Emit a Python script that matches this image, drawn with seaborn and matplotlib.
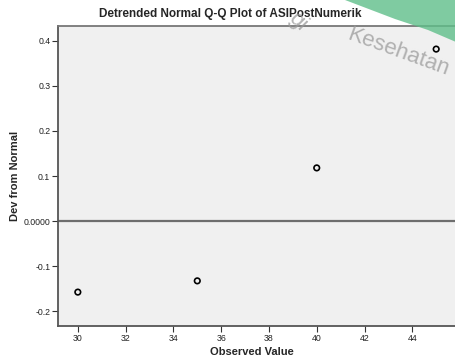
import matplotlib
matplotlib.use("Agg")
import matplotlib.pyplot as plt
import seaborn as sns
import pandas as pd
from matplotlib.patches import Polygon
from matplotlib.ticker import FixedLocator, FixedFormatter

observed = [30, 35, 40, 45]
deviation = [-0.158, -0.133, 0.118, 0.382]
xticks = [30, 32, 34, 36, 38, 40, 42, 44]
yticks = [-0.2, -0.1, 0.0, 0.1, 0.2, 0.3, 0.4]
ytick_labels = ["-0.2", "-0.1", "0.0000", "0.1", "0.2", "0.3", "0.4"]

sns.set_theme(style="white")
plt.rcParams['font.family'] = ['Liberation Sans', 'DejaVu Sans']

df = pd.DataFrame({"Observed Value": observed, "Dev from Normal": deviation})

W, H = 456, 361
fig = plt.figure(figsize=(W / 100, H / 100), dpi=100)
fig.patch.set_facecolor("white")
ax = fig.add_axes([58 / W, 1 - 326 / H, (458 - 58) / W, 300 / H])
ax.set_facecolor("#F0F0F0")

ax.axhline(0, color="#6E6E6E", lw=1.6, zorder=1)
sns.scatterplot(data=df, x="Observed Value", y="Dev from Normal", ax=ax,
                marker="o", s=16, facecolor="none", edgecolor="black",
                linewidth=1.2, zorder=3)

ax.set_xlim(29.17, 45.83 + 2 / 24)
ax.set_ylim(-0.2333, 0.4333)
ax.xaxis.set_major_locator(FixedLocator(xticks))
ax.yaxis.set_major_locator(FixedLocator(yticks))
ax.yaxis.set_major_formatter(FixedFormatter(ytick_labels))
ax.tick_params(axis="both", direction="out", length=4, width=0.8, color="#333333",
               labelsize=6.3, labelcolor="#222222", pad=1.5,
               bottom=True, left=True, top=False, right=False)
ax.tick_params(axis="x", pad=2)
for s in ["left", "bottom", "top"]:
    ax.spines[s].set_color("#555555")
    ax.spines[s].set_linewidth(1.3)
ax.spines["top"].set_color("#777777")
ax.spines["right"].set_visible(False)

ax.set_xlabel("Observed Value", fontsize=8, fontweight="bold")
ax.set_ylabel("Dev from Normal", fontsize=8, fontweight="bold")
ax.xaxis.set_label_coords((252 - 58) / 400, -(347 - 326) / 300)
ax.yaxis.set_label_coords(-(58 - 20) / 400, 0.5)
fig.text(230 / W, 1 - 14 / H, "Detrended Normal Q-Q Plot of ASIPostNumerik",
         ha="center", va="center", fontsize=8.5, fontweight="bold")

# watermark (logo fragment)
pts = [(345, 0), (395, 19), (428, 30), (456, 42), (456, 0)]
poly = Polygon([(x / W, 1 - y / H) for x, y in pts], closed=True,
               transform=fig.transFigure, facecolor="#5FBF8A", alpha=0.8,
               edgecolor="none", zorder=10)
fig.patches.append(poly)
fig.text(398 / W, 1 - 52 / H, "Kesehatan", rotation=-20, ha="center", va="center",
         fontsize=16, color="#9A9A9A", alpha=0.75, zorder=11)
fig.text(298 / W, 1 - 22 / H, "gi", rotation=-45, ha="center", va="center",
         fontsize=16, color="#9A9A9A", alpha=0.75, zorder=11)

fig.savefig("out.png", dpi=100)
